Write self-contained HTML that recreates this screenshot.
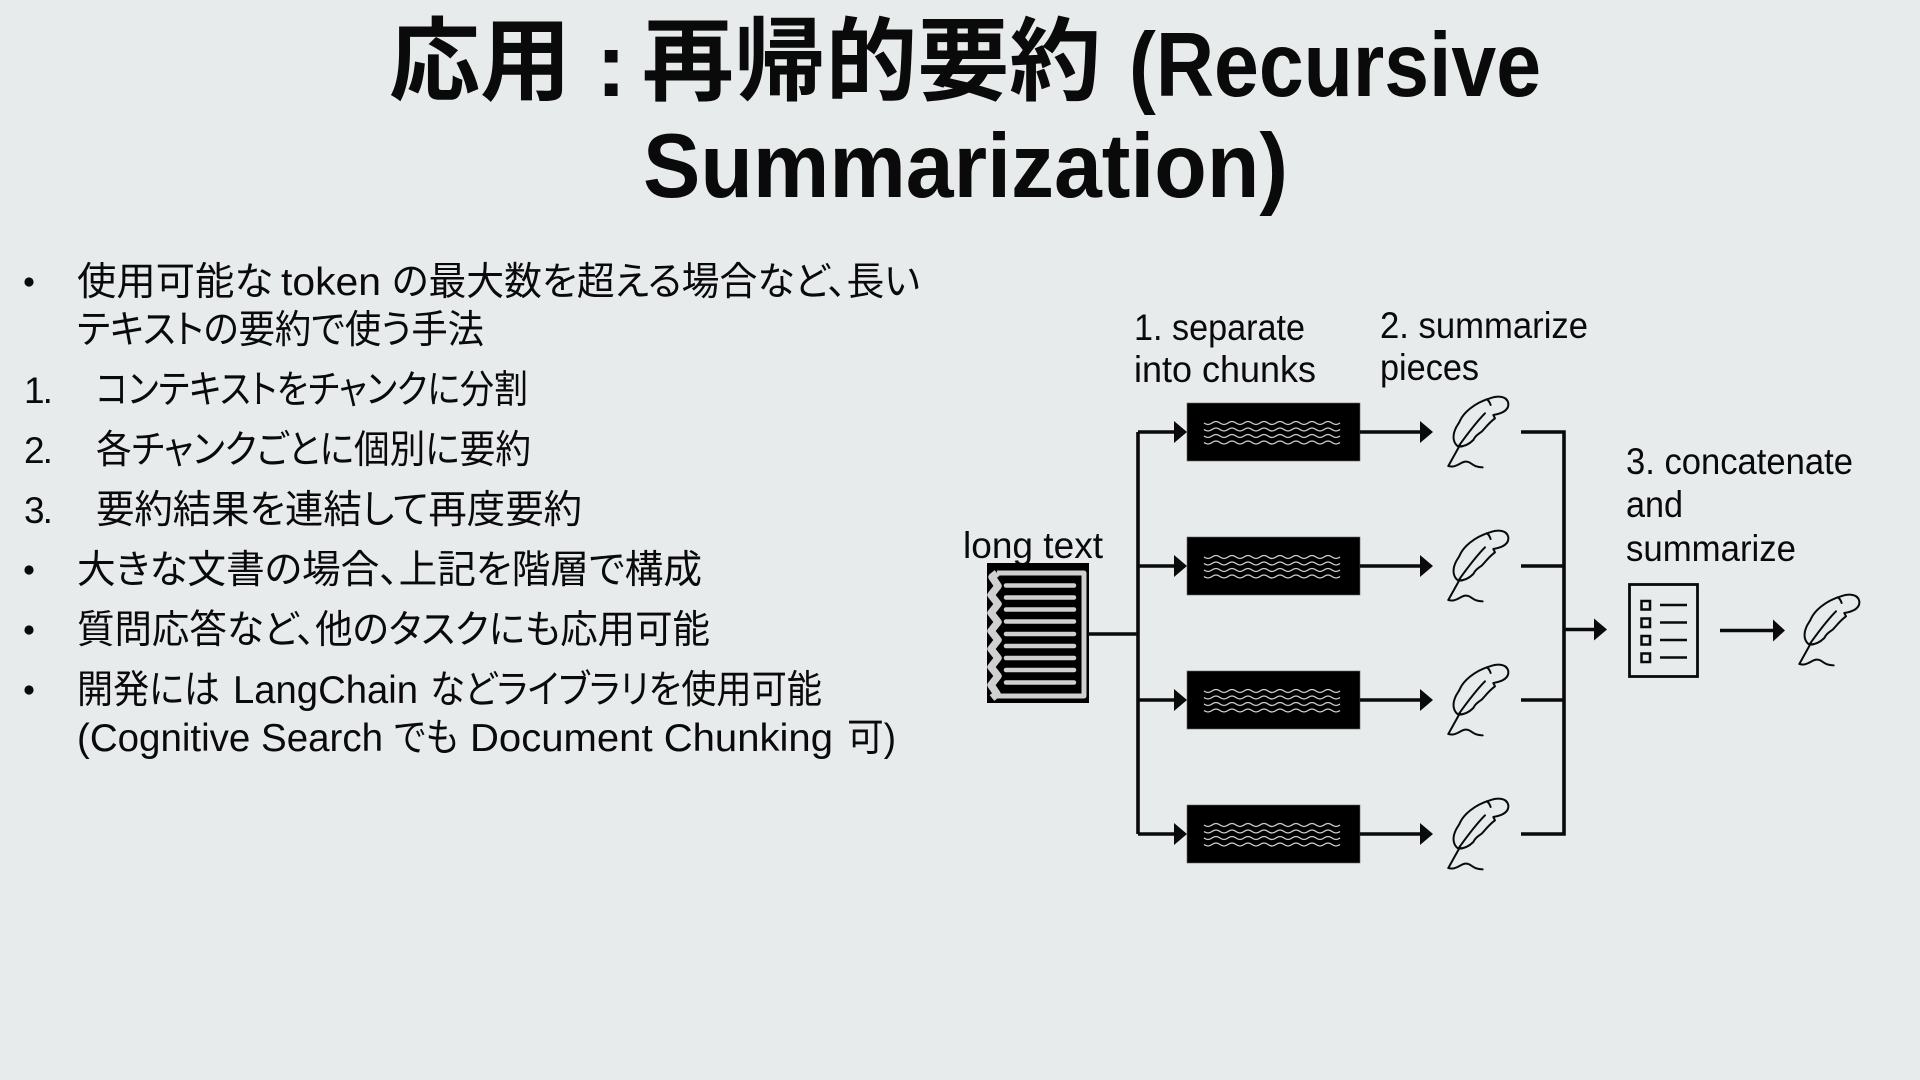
<!DOCTYPE html>
<html lang="ja"><head><meta charset="utf-8"><title>応用 : 再帰的要約</title>
<style>
html,body{margin:0;padding:0;background:#e7ebec;width:1920px;height:1080px;overflow:hidden}
svg{display:block}
text{font-family:"Liberation Sans","Noto Sans CJK JP",sans-serif;fill:#0a0a0a;font-feature-settings:"palt";white-space:pre}
.t{font-size:91px;font-weight:700}
.b{font-size:39px}
.n{font-size:37px;letter-spacing:-2px}
.l{font-size:37px}
.ln{fill:none;stroke:#0a0a0a;stroke-width:3.6}
.w{fill:none;stroke:#d0d0d0;stroke-width:1.3}
.f{fill:none;stroke:#0a0a0a;stroke-width:6;stroke-linecap:round;stroke-linejoin:round}
</style></head><body>
<svg width="1920" height="1080" viewBox="0 0 1920 1080" xmlns="http://www.w3.org/2000/svg">
<rect width="1920" height="1080" fill="#e7ebec"/>
<!-- title -->
<text class="t" x="389" y="93" textLength="182" lengthAdjust="spacingAndGlyphs">応用</text>
<text class="t" x="596" y="96">:</text>
<text class="t" x="642" y="93" textLength="459" lengthAdjust="spacingAndGlyphs">再帰的要約</text>
<text class="t" x="1129" y="96" textLength="412" lengthAdjust="spacingAndGlyphs">(Recursive</text>
<text class="t" x="643" y="197" textLength="645" lengthAdjust="spacingAndGlyphs">Summarization)</text>
<!-- body -->
<circle cx="29" cy="282" r="4.6" fill="#0a0a0a"/>
<text class="b" x="77" y="295" textLength="196" lengthAdjust="spacingAndGlyphs">使用可能な</text>
<text class="b" x="281" y="295" textLength="100" lengthAdjust="spacingAndGlyphs">token</text>
<text class="b" x="392" y="295" textLength="528" lengthAdjust="spacingAndGlyphs">の最大数を超える場合など、長い</text>
<text class="b" x="77" y="343" textLength="407" lengthAdjust="spacingAndGlyphs">テキストの要約で使う手法</text>
<text class="n" x="24" y="403">1.</text>
<text class="b" x="96" y="403" textLength="432" lengthAdjust="spacingAndGlyphs">コンテキストをチャンクに分割</text>
<text class="n" x="24" y="463">2.</text>
<text class="b" x="96" y="463" textLength="435" lengthAdjust="spacingAndGlyphs">各チャンクごとに個別に要約</text>
<text class="n" x="24" y="523">3.</text>
<text class="b" x="96" y="523" textLength="486" lengthAdjust="spacingAndGlyphs">要約結果を連結して再度要約</text>
<circle cx="29" cy="570" r="4.6" fill="#0a0a0a"/>
<text class="b" x="77" y="583" textLength="625" lengthAdjust="spacingAndGlyphs">大きな文書の場合、上記を階層で構成</text>
<circle cx="29" cy="630" r="4.6" fill="#0a0a0a"/>
<text class="b" x="77" y="643" textLength="633" lengthAdjust="spacingAndGlyphs">質問応答など、他のタスクにも応用可能</text>
<circle cx="29" cy="690" r="4.6" fill="#0a0a0a"/>
<text class="b" x="77" y="703" textLength="143" lengthAdjust="spacingAndGlyphs">開発には</text>
<text class="b" x="233" y="703" textLength="185" lengthAdjust="spacingAndGlyphs">LangChain</text>
<text class="b" x="430" y="703" textLength="392" lengthAdjust="spacingAndGlyphs">などライブラリを使用可能</text>
<text class="b" x="77" y="751" textLength="306" lengthAdjust="spacingAndGlyphs">(Cognitive Search</text>
<text class="b" x="394" y="751" textLength="64" lengthAdjust="spacingAndGlyphs">でも</text>
<text class="b" x="470" y="751" textLength="363" lengthAdjust="spacingAndGlyphs">Document Chunking</text>
<text class="b" x="847" y="751" textLength="49" lengthAdjust="spacingAndGlyphs">可)</text>
<!-- labels -->
<text class="l" x="963" y="558" textLength="140" lengthAdjust="spacingAndGlyphs">long text</text>
<text class="l" x="1134" y="340" textLength="171" lengthAdjust="spacingAndGlyphs">1. separate</text>
<text class="l" x="1134" y="382" textLength="182" lengthAdjust="spacingAndGlyphs">into chunks</text>
<text class="l" x="1380" y="338" textLength="208" lengthAdjust="spacingAndGlyphs">2. summarize</text>
<text class="l" x="1380" y="380" textLength="99" lengthAdjust="spacingAndGlyphs">pieces</text>
<text class="l" x="1626" y="474" textLength="227" lengthAdjust="spacingAndGlyphs">3. concatenate</text>
<text class="l" x="1626" y="517" textLength="57" lengthAdjust="spacingAndGlyphs">and</text>
<text class="l" x="1626" y="561" textLength="170" lengthAdjust="spacingAndGlyphs">summarize</text>
<!-- long text document -->
<rect x="987" y="563" width="102" height="140" fill="#000"/>
<path d="M997 573H1084V696H992" fill="none" stroke="#d0d0d0" stroke-width="5" stroke-linejoin="round"/>
<path d="M997 573L992 577L998 586L991 595L998 604L991 613L998 622L991 631L998 640L991 649L998 658L991 667L998 676L991 685L997 694L992 698" fill="none" stroke="#d0d0d0" stroke-width="7.5" stroke-linejoin="round"/>
<path d="M1006 585.500H1074M1006 597.500H1074M1006 609.500H1074M1006 621.500H1074M1006 634H1074M1006 646H1074M1006 658H1074M1006 670H1074M1006 682.500H1074" fill="none" stroke="#d0d0d0" stroke-width="4.500" stroke-linecap="round"/>
<!-- left connectors -->
<path class="ln" d="M1088 634H1138M1138 432V834M1138 432H1176M1138 566H1176M1138 700H1176M1138 834H1176"/>
<path d="M1174 421L1187 432L1174 443ZM1174 555L1187 566L1174 577ZM1174 689L1187 700L1174 711ZM1174 823L1187 834L1174 845Z" fill="#0a0a0a"/>
<!-- chunk boxes -->
<g id="box">
<rect x="1187" y="403" width="173" height="58" fill="#000" stroke="#666" stroke-width=".6"/>
<g class="w">
<path d="M1204 423q4 3 8 0t8 0t8 0t8 0t8 0t8 0t8 0t8 0t8 0t8 0t8 0t8 0t8 0t8 0t8 0t8 0t8 0"/>
<path d="M1204 429.500q4 3 8 0t8 0t8 0t8 0t8 0t8 0t8 0t8 0t8 0t8 0t8 0t8 0t8 0t8 0t8 0t8 0t8 0"/>
<path d="M1204 436q4 3 8 0t8 0t8 0t8 0t8 0t8 0t8 0t8 0t8 0t8 0t8 0t8 0t8 0t8 0t8 0t8 0t8 0"/>
<path d="M1204 442.500q4 3 8 0t8 0t8 0t8 0t8 0t8 0t8 0t8 0t8 0t8 0t8 0t8 0t8 0t8 0t8 0t8 0t8 0"/>
</g>
</g>
<use href="#box" y="134"/>
<use href="#box" y="268"/>
<use href="#box" y="402"/>
<!-- middle arrows -->
<path class="ln" d="M1360 432H1423M1360 566H1423M1360 700H1423M1360 834H1423"/>
<path d="M1420 421L1433 432L1420 443ZM1420 555L1433 566L1420 577ZM1420 689L1433 700L1420 711ZM1420 823L1433 834L1420 845Z" fill="#0a0a0a"/>
<!-- feathers -->
<g id="feather" transform="translate(1360 380) scale(.3333)">
<path class="f" d="M295 200C280 190 277 170 285 150C290 135 298 130 300 122C310 100 340 70 390 55C410 48 440 45 445 70C447 90 430 100 400 105L405 115C385 130 375 145 365 155C350 165 345 170 340 180C325 195 310 200 295 200Z"/>
<path class="f" d="M297 197C320 165 350 125 375 100"/>
<path class="f" d="M265 258L300 195"/>
<path class="f" d="M265 258C285 265 300 248 315 245C335 243 335 262 368 262"/>
<path class="f" d="M380 58C388 62 390 70 392 75"/>
</g>
<use href="#feather" y="134"/>
<use href="#feather" y="268"/>
<use href="#feather" y="402"/>
<use href="#feather" x="351" y="198"/>
<!-- bracket -->
<path class="ln" d="M1521 432H1564V834H1521M1521 566H1564M1521 700H1564M1564 629.500H1596"/>
<path d="M1594 618.500L1607 629.500L1594 640.500Z" fill="#0a0a0a"/>
<!-- list document -->
<rect x="1629.500" y="584.500" width="68" height="92" fill="none" stroke="#0a0a0a" stroke-width="2.800"/>
<g fill="none" stroke="#0a0a0a" stroke-width="2.500">
<rect x="1641.500" y="601" width="8.500" height="8.500"/>
<rect x="1641.500" y="618.500" width="8.500" height="8.500"/>
<rect x="1641.500" y="636" width="8.500" height="8.500"/>
<rect x="1641.500" y="653.500" width="8.500" height="8.500"/>
<path d="M1660 605H1687M1660 622.500H1687M1660 640H1687M1660 657.500H1687"/>
</g>
<path class="ln" d="M1720 630.500H1775"/>
<path d="M1773 619.500L1785 630.500L1773 641.500Z" fill="#0a0a0a"/>
</svg>
</body></html>
